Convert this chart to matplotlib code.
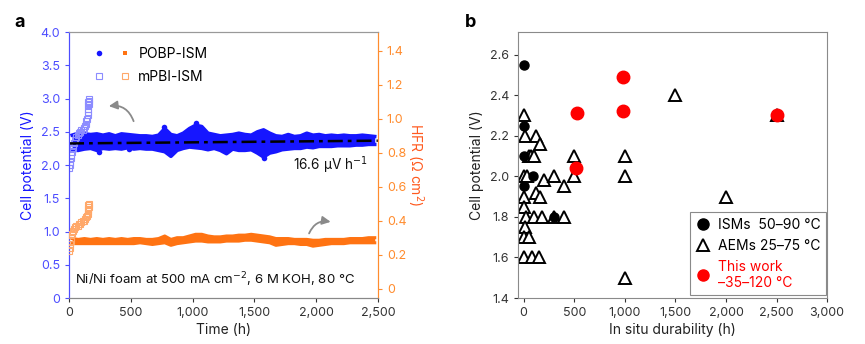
import numpy as np
import matplotlib
matplotlib.use('Agg')
import matplotlib.pyplot as plt
from matplotlib.legend_handler import HandlerTuple
from matplotlib.lines import Line2D
from matplotlib.ticker import FuncFormatter

plt.rcParams['font.family'] = ['Inter', 'DejaVu Sans']

# --- panel a: POBP-ISM band, read every 50 h (low / high edge of the dots)
t_pobp = np.arange(25, 2500, 50)
v_lo = [2.22, 2.22, 2.24, 2.25, 2.22, 2.25, 2.24, 2.25, 2.24, 2.26,
        2.24, 2.25, 2.24, 2.24, 2.22, 2.20, 2.13, 2.22, 2.25, 2.27,
        2.26, 2.25, 2.23, 2.25, 2.22, 2.17, 2.24, 2.22, 2.22, 2.23,
        2.18, 2.12, 2.18, 2.20, 2.23, 2.24, 2.25, 2.25, 2.27, 2.26,
        2.28, 2.28, 2.28, 2.29, 2.29, 2.29, 2.30, 2.30, 2.31, 2.31]
v_hi = [2.45, 2.48, 2.47, 2.46, 2.47, 2.45, 2.47, 2.44, 2.47, 2.46,
        2.45, 2.44, 2.44, 2.43, 2.45, 2.55, 2.46, 2.44, 2.48, 2.55,
        2.60, 2.58, 2.48, 2.46, 2.44, 2.45, 2.46, 2.48, 2.46, 2.45,
        2.50, 2.53, 2.48, 2.44, 2.43, 2.46, 2.43, 2.44, 2.48, 2.45,
        2.46, 2.44, 2.45, 2.44, 2.45, 2.44, 2.44, 2.45, 2.44, 2.43]
hfr_lo = [0.265, 0.265, 0.265, 0.265, 0.265, 0.265, 0.265, 0.265, 0.265, 0.265,
          0.265, 0.270, 0.265, 0.260, 0.265, 0.270, 0.255, 0.265, 0.270, 0.275,
          0.280, 0.280, 0.275, 0.275, 0.275, 0.280, 0.280, 0.280, 0.285, 0.285,
          0.280, 0.275, 0.270, 0.255, 0.260, 0.265, 0.265, 0.260, 0.260, 0.250,
          0.255, 0.260, 0.265, 0.265, 0.265, 0.270, 0.270, 0.270, 0.270, 0.270]
hfr_hi = [0.295, 0.290, 0.295, 0.290, 0.295, 0.290, 0.295, 0.290, 0.295, 0.290,
          0.295, 0.295, 0.290, 0.290, 0.295, 0.310, 0.290, 0.300, 0.300, 0.310,
          0.320, 0.320, 0.310, 0.305, 0.305, 0.310, 0.310, 0.315, 0.315, 0.320,
          0.315, 0.310, 0.305, 0.295, 0.295, 0.295, 0.290, 0.290, 0.290, 0.285,
          0.285, 0.290, 0.290, 0.290, 0.290, 0.295, 0.295, 0.295, 0.300, 0.300]
# a few isolated voltage dots outside the band
t_out = [245, 488, 769, 1106, 1575, 1030]
v_out = [2.19, 2.24, 2.57, 2.27, 2.10, 2.64]

# mPBI-ISM
t_mpbi_v = [0, 5, 10, 15, 20, 25, 30, 35, 40, 50, 60, 70, 80, 90, 100, 110, 120,
            130, 135, 140, 145, 150, 150, 155, 155, 155, 160, 160, 160]
v_mpbi = [1.95, 2.0, 2.05, 2.1, 2.15, 2.2, 2.25, 2.3, 2.33, 2.38, 2.42, 2.45, 2.48,
          2.5, 2.52, 2.53, 2.55, 2.58, 2.62, 2.66, 2.7, 2.75, 2.8, 2.85, 2.9, 2.95,
          2.92, 2.97, 3.0]
t_mpbi_h = [0, 5, 10, 15, 20, 25, 30, 40, 50, 60, 70, 80, 90, 100, 110, 120, 130,
            140, 145, 150, 150, 155, 155, 160, 160]
hfr_mpbi = [0.22, 0.24, 0.26, 0.28, 0.30, 0.32, 0.34, 0.35, 0.36, 0.37, 0.37, 0.38,
            0.38, 0.39, 0.40, 0.40, 0.41, 0.42, 0.43, 0.44, 0.46, 0.47, 0.49, 0.48, 0.50]

fit_rate = 16.6e-6  # V per h
fit_v0 = 2.325

# --- panel b
ism_x = [0, 0, 0, 0, 95, 300]
ism_y = [2.55, 2.25, 2.10, 1.95, 2.00, 1.80]
aem_x = [0, 10, 120, 160, 50, 75, 100, 500, 1000, 5, 30, 200, 300, 500, 1000,
         400, 120, 160, 5, 5, 20, 100, 180, 300, 400, 10, 5, 55, 0, 80, 150,
         1000, 1500, 2000, 2500]
aem_y = [2.30, 2.20, 2.20, 2.16, 2.10, 2.10, 2.10, 2.10, 2.10, 2.00, 2.00, 1.98,
         2.00, 2.00, 2.00, 1.95, 1.92, 1.90, 1.90, 1.85, 1.80, 1.80, 1.80, 1.80,
         1.80, 1.75, 1.70, 1.70, 1.60, 1.60, 1.60, 1.50, 2.40, 1.90, 2.30]
this_x = [530, 985, 985, 2500, 520]
this_y = [2.31, 2.49, 2.32, 2.30, 2.04]

BLUE = '#1616ff'
LBLUE = '#8c8cff'
ORANGE = '#ff7312'
LORANGE = '#ffa86a'
AXBLUE = '#4d4dff'
AXORANGE = '#ff8c2e'

fig = plt.figure(figsize=(8.65, 3.44), dpi=100)
ax1 = fig.add_axes([0.0798, 0.1337, 0.357, 0.773])
ax1r = ax1.twinx()

# voltage band
ax1.fill_between(t_pobp, v_lo, v_hi, color=BLUE, lw=0, zorder=2)
ax1.plot(t_pobp, v_lo, color=BLUE, lw=2.5, solid_joinstyle='round', zorder=2)
ax1.plot(t_pobp, v_hi, color=BLUE, lw=2.5, solid_joinstyle='round', zorder=2)
ax1.plot(t_out, v_out, 'o', color=BLUE, ms=4, mew=0, zorder=2)
tt = np.array([0, 2500])
ax1.plot(tt, fit_v0 + fit_rate * tt, color='black', lw=1.8, ls=(0, (6, 2, 1.5, 2)), zorder=4)
ax1.plot(t_mpbi_v, v_mpbi, 's', mfc='none', mec=LBLUE, ms=4, mew=0.8, zorder=3)

# HFR band on right axis
ax1r.fill_between(t_pobp, hfr_lo, hfr_hi, color=ORANGE, lw=0, zorder=2)
ax1r.plot(t_pobp, hfr_lo, color=ORANGE, lw=2.2, solid_joinstyle='round', zorder=2)
ax1r.plot(t_pobp, hfr_hi, color=ORANGE, lw=2.2, solid_joinstyle='round', zorder=2)
ax1r.plot(t_mpbi_h, hfr_mpbi, 's', mfc='none', mec=LORANGE, ms=4, mew=0.8, zorder=3)

ax1.set_xlim(0, 2500)
ax1.set_ylim(0, 4.0)
ax1r.set_ylim(-0.055, 1.51)
ax1.set_xticks([0, 500, 1000, 1500, 2000, 2500])
ax1.xaxis.set_major_formatter(FuncFormatter(lambda v, p: f'{int(v):,}'))
ax1.set_yticks(np.arange(0, 4.01, 0.5))
ax1.yaxis.set_major_formatter(FuncFormatter(lambda v, p: '0' if v == 0 else f'{v:.1f}'))
ax1r.set_yticks(np.arange(0, 1.41, 0.2))
ax1r.yaxis.set_major_formatter(FuncFormatter(lambda v, p: '0' if abs(v) < 1e-9 else f'{v:.1f}'))

ax1.tick_params(axis='y', colors=AXBLUE, labelsize=9, length=3, width=0.8)
ax1.tick_params(axis='x', colors='#333333', labelsize=9, length=3, width=0.8)
ax1r.tick_params(axis='y', colors=AXORANGE, labelsize=9, length=3, width=0.8)
for ax in (ax1, ax1r):
    ax.spines['left'].set_color(AXBLUE)
    ax.spines['right'].set_color(AXORANGE)
    ax.spines['top'].set_color('#999999')
    ax.spines['bottom'].set_color('#888888')
    for s in ax.spines.values():
        s.set_linewidth(0.8)

ax1.set_xlabel('Time (h)', fontsize=10, color='#222222', labelpad=3)
ax1.set_ylabel('Cell potential (V)', fontsize=10, color=BLUE, labelpad=4)
ax1r.set_ylabel('HFR (Ω cm$^{2}$)', fontsize=10, color='#ff5a1f', rotation=270, labelpad=14)

ax1.text(2420, 2.0, '16.6 µV h$^{-1}$', ha='right', va='center', fontsize=9.8, color='#111111')
ax1.text(50, 0.28, 'Ni/Ni foam at 500 mA cm$^{-2}$, 6 M KOH, 80 °C', ha='left', va='center',
         fontsize=9.5, color='#111111')

ax1.annotate('', xy=(300, 2.88), xytext=(530, 2.62),
             arrowprops=dict(arrowstyle='-|>,head_width=0.25,head_length=0.5', color='#8a8a8a',
                             lw=1.3, connectionstyle='arc3,rad=0.45'))
ax1r.annotate('', xy=(2140, 0.39), xytext=(1935, 0.31),
              arrowprops=dict(arrowstyle='-|>,head_width=0.25,head_length=0.5', color='#8a8a8a',
                              lw=1.3, connectionstyle='arc3,rad=-0.45'))

h_pobp = (Line2D([], [], ls='none', marker='o', color=BLUE, ms=4, mew=0),
          Line2D([], [], ls='none', marker='s', color=ORANGE, ms=3.5, mew=0))
h_mpbi = (Line2D([], [], ls='none', marker='s', mfc='none', mec=LBLUE, ms=4, mew=0.8),
          Line2D([], [], ls='none', marker='s', mfc='none', mec=LORANGE, ms=4, mew=0.8))
ax1.legend([h_pobp, h_mpbi], ['POBP-ISM', 'mPBI-ISM'], loc='upper left',
           bbox_to_anchor=(0.04, 0.99), frameon=False, fontsize=10,
           handler_map={tuple: HandlerTuple(ndivide=None, pad=1.2)},
           handlelength=2.6, handletextpad=0.6, labelspacing=0.6)

fig.text(0.017, 0.935, 'a', fontsize=13, fontweight='bold', va='center')

# --- panel b
ax2 = fig.add_axes([0.5992, 0.1337, 0.357, 0.7724])
ax2.plot(aem_x, aem_y, '^', mfc='white', mec='black', ms=8, mew=1.4, ls='none', zorder=2)
ax2.plot(ism_x, ism_y, 'o', color='black', ms=6.5, ls='none', zorder=3)
ax2.plot(this_x, this_y, 'o', color='#ff0000', ms=9, ls='none', zorder=4)

ax2.set_xlim(-53, 3000)
ax2.set_ylim(1.4, 2.71)
ax2.set_xticks(np.arange(0, 3001, 500))
ax2.xaxis.set_major_formatter(FuncFormatter(lambda v, p: f'{int(v):,}'))
ax2.set_yticks(np.arange(1.4, 2.61, 0.2))
ax2.yaxis.set_major_formatter(FuncFormatter(lambda v, p: f'{v:.1f}'))
ax2.tick_params(colors='#333333', labelsize=9, length=3, width=0.8)
for s in ax2.spines.values():
    s.set_color('#8a8a8a')
    s.set_linewidth(0.8)
ax2.set_xlabel('In situ durability (h)', fontsize=10, color='#222222', labelpad=3)
ax2.set_ylabel('Cell potential (V)', fontsize=10, color='#222222', labelpad=4)

hb = [Line2D([], [], ls='none', marker='o', color='black', ms=8),
      Line2D([], [], ls='none', marker='^', mfc='white', mec='black', ms=9, mew=1.4),
      Line2D([], [], ls='none', marker='o', color='#ff0000', ms=8)]
leg = ax2.legend(hb, ['ISMs  50–90 °C', 'AEMs 25–75 °C', 'This work\n–35–120 °C'],
                 loc='lower right', bbox_to_anchor=(0.997, 0.01), fontsize=10,
                 fancybox=False, edgecolor='#8a8a8a', framealpha=1, borderpad=0.4,
                 handlelength=1.0, handletextpad=0.6, labelspacing=0.5, borderaxespad=0)
leg.get_frame().set_linewidth(0.8)
leg.get_texts()[2].set_color('#ff0000')

fig.text(0.538, 0.935, 'b', fontsize=13, fontweight='bold', va='center')

fig.savefig('out.png', dpi=100)
